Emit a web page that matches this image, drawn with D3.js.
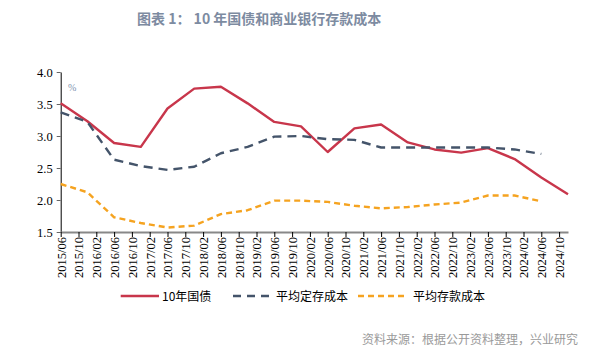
<!DOCTYPE html>
<html><head><meta charset="utf-8">
<script src="https://cdn.jsdelivr.net/npm/d3@7/dist/d3.min.js"></script>
<style>body{margin:0;background:#fff;}svg{display:block;}</style>
</head><body>
<svg id="c" width="611" height="353"></svg>
<script>
// ---- data ----
const dates = ["2015/06","2015/12","2016/06","2016/12","2017/06","2017/12","2018/06","2018/12","2019/06","2019/12",
  "2020/06","2020/12","2021/06","2021/12","2022/06","2022/12","2023/06","2023/12","2024/06","2024/12"];
const bond10y = [3.51,3.23,2.89,2.83,3.43,3.74,3.77,3.51,3.22,3.15,2.75,3.12,3.18,2.90,2.79,2.74,2.81,2.64,2.35,2.09];
const timeDepositCost = [3.37,3.22,2.63,2.53,2.47,2.52,2.73,2.83,2.99,3.00,2.95,2.94,2.82,2.82,2.82,2.82,2.82,2.79,2.72,null];
const depositCost = [2.25,2.12,1.73,1.64,1.57,1.60,1.78,1.84,1.99,1.99,1.97,1.91,1.87,1.89,1.93,1.96,2.07,2.07,1.98,null];
const xTickLabels = ["2015/06","2015/10","2016/02","2016/06","2016/10","2017/02","2017/06","2017/10","2018/02","2018/06",
  "2018/10","2019/02","2019/06","2019/10","2020/02","2020/06","2020/10","2021/02","2021/06","2021/10","2022/02",
  "2022/06","2022/10","2023/02","2023/06","2023/10","2024/02","2024/06","2024/10"];
const yTicks = [1.5,2.0,2.5,3.0,3.5,4.0];
const seriesNames = ["10年国债","平均定存成本","平均存款成本"];

const monthIdx = s => { const [y,m] = s.split("/").map(Number); return (y-2015)*12 + (m-6); };

const svg = d3.select("#c");
const x = d3.scaleLinear().domain([0, monthIdx("2024/12")]).range([60.7, 568]);
const y = d3.scaleLinear().domain([1.5, 4.0]).range([232, 72]);

// title
svg.append("text").attr("x",137).attr("y",24)
  .attr("font-family","'Noto Sans CJK SC','Noto Sans',sans-serif").attr("font-size",14).attr("font-weight","bold")
  .attr("fill","#7d8ba1").text("图表 1：  10 年国债和商业银行存款成本");

// y axis
const yAxis = svg.append("g").attr("transform","translate(60.7,0)")
  .call(d3.axisLeft(y).tickValues(yTicks).tickFormat(d3.format(".1f")).tickSize(4).tickSizeOuter(0));
yAxis.select(".domain").attr("stroke","#000").attr("stroke-width",1);
yAxis.selectAll(".tick line").attr("stroke","#666");
yAxis.selectAll(".tick text").attr("font-family","'Liberation Serif','Times New Roman',serif")
  .attr("font-size",12.5).attr("fill","#000").attr("x",-8);

// x axis
const xAxis = svg.append("g").attr("transform","translate(0,232)")
  .call(d3.axisBottom(x).tickValues(xTickLabels.map(monthIdx)).tickFormat((d,i)=>xTickLabels[i]).tickSize(5).tickSizeOuter(0));
xAxis.select(".domain").attr("stroke","#888").attr("stroke-width",2);
xAxis.selectAll(".tick line").attr("stroke","#000");
xAxis.selectAll(".tick text").attr("font-family","'Liberation Serif','Times New Roman',serif")
  .attr("font-size",12.5).attr("fill","#000")
  .attr("text-anchor","end").attr("transform","rotate(-90)")
  .attr("x",-5).attr("y",0).attr("dy","0.35em");

// % unit
svg.append("text").attr("x",68).attr("y",91).attr("font-family","'Liberation Serif',serif")
  .attr("font-size",10).attr("fill","#8094b0").text("%");

// lines
const series = [
  {vals: bond10y, color:"#c8364b", dash:null, w:2.4},
  {vals: timeDepositCost, color:"#44546a", dash:"9,6", w:2.4},
  {vals: depositCost, color:"#f5a320", dash:"6,4", w:2.4}
];
const line = d3.line().defined(d => d[1] != null).x(d => x(monthIdx(d[0]))).y(d => y(d[1]));
series.forEach(s => {
  svg.append("path").datum(dates.map((d,i)=>[d, s.vals[i]]))
    .attr("fill","none").attr("stroke",s.color).attr("stroke-width",s.w)
    .attr("stroke-dasharray",s.dash).attr("stroke-linejoin","round").attr("d",line);
});

// legend
const legend = [
  {x1:120.7, x2:159, tx:162, color:"#c8364b", dash:null},
  {x1:233, x2:270, tx:276, color:"#44546a", dash:"8,6"},
  {x1:358, x2:408, tx:413, color:"#f5a320", dash:"6,4"}
];
legend.forEach((l,i) => {
  svg.append("line").attr("x1",l.x1).attr("x2",l.x2).attr("y1",296).attr("y2",296)
    .attr("stroke",l.color).attr("stroke-width",2.4).attr("stroke-dasharray",l.dash);
  svg.append("text").attr("x",l.tx).attr("y",300.5)
    .attr("font-family","'Noto Sans CJK SC','Noto Sans',sans-serif").attr("font-size",12).attr("fill","#000")
    .text(seriesNames[i]);
});

// source
svg.append("text").attr("x",362).attr("y",344)
  .attr("font-family","'Noto Sans CJK SC','Noto Sans',sans-serif").attr("font-size",12).attr("fill","#9a9a9a")
  .text("资料来源：根据公开资料整理，兴业研究");
</script>
</body></html>
